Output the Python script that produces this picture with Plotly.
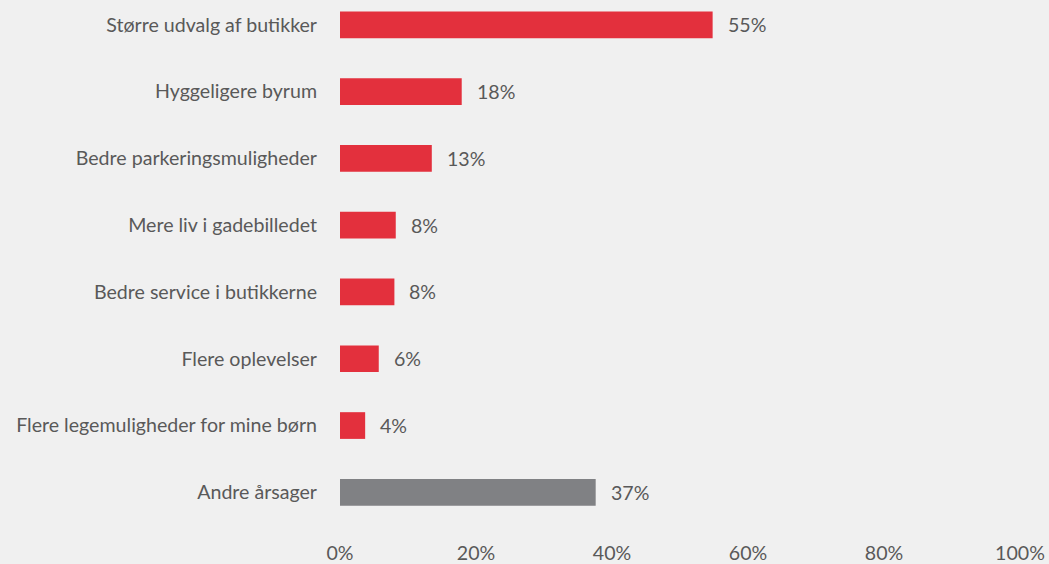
import plotly.graph_objects as go

categories = [
    "Større udvalg af butikker",
    "Hyggeligere byrum",
    "Bedre parkeringsmuligheder",
    "Mere liv i gadebilledet",
    "Bedre service i butikkerne",
    "Flere oplevelser",
    "Flere legemuligheder for mine børn",
    "Andre årsager",
]
values = [54.8, 17.9, 13.5, 8.2, 8.0, 5.7, 3.7, 37.6]
value_labels = ["55%", "18%", "13%", "8%", "8%", "6%", "4%", "37%"]
colors = ["#e3303d"] * 7 + ["#808184"]

tick_vals = [0, 20, 40, 60, 80, 100]
tick_text = ["0%", "20%", "40%", "60%", "80%", "100%"]

BG = "#f0f0f0"
TXT = "#595959"
FONT = "Lato, Open Sans, sans-serif"
FS = 19.6

fig = go.Figure(
    go.Bar(
        x=values,
        y=categories,
        orientation="h",
        marker=dict(color=colors, line=dict(width=0)),
        width=0.4,
        hoverinfo="skip",
    )
)

for c, v, t in zip(categories, values, value_labels):
    fig.add_annotation(
        x=v, y=c, text=t, showarrow=False, xanchor="left", xshift=13,
        font=dict(family=FONT, size=FS, color=TXT),
    )

fig.update_layout(
    width=1049,
    height=564,
    paper_bgcolor=BG,
    plot_bgcolor=BG,
    margin=dict(l=340, r=29, t=0, b=34),
    showlegend=False,
    font=dict(family=FONT, size=FS, color=TXT),
    xaxis=dict(
        range=[0, 100],
        tickvals=tick_vals,
        ticktext=tick_text,
        showgrid=False,
        zeroline=False,
        showline=False,
        ticks="",
        ticklabelstandoff=13,
        tickfont=dict(family=FONT, size=FS, color=TXT),
    ),
    yaxis=dict(
        range=[7.504, -0.371],
        showgrid=False,
        zeroline=False,
        showline=False,
        ticks="",
        ticklabelstandoff=22,
        tickfont=dict(family=FONT, size=FS, color=TXT),
    ),
)

fig.write_html(
    "out.html",
    config={"displayModeBar": False},
    post_script="document.body.style.margin='0';document.body.style.background='%s';" % BG,
)
